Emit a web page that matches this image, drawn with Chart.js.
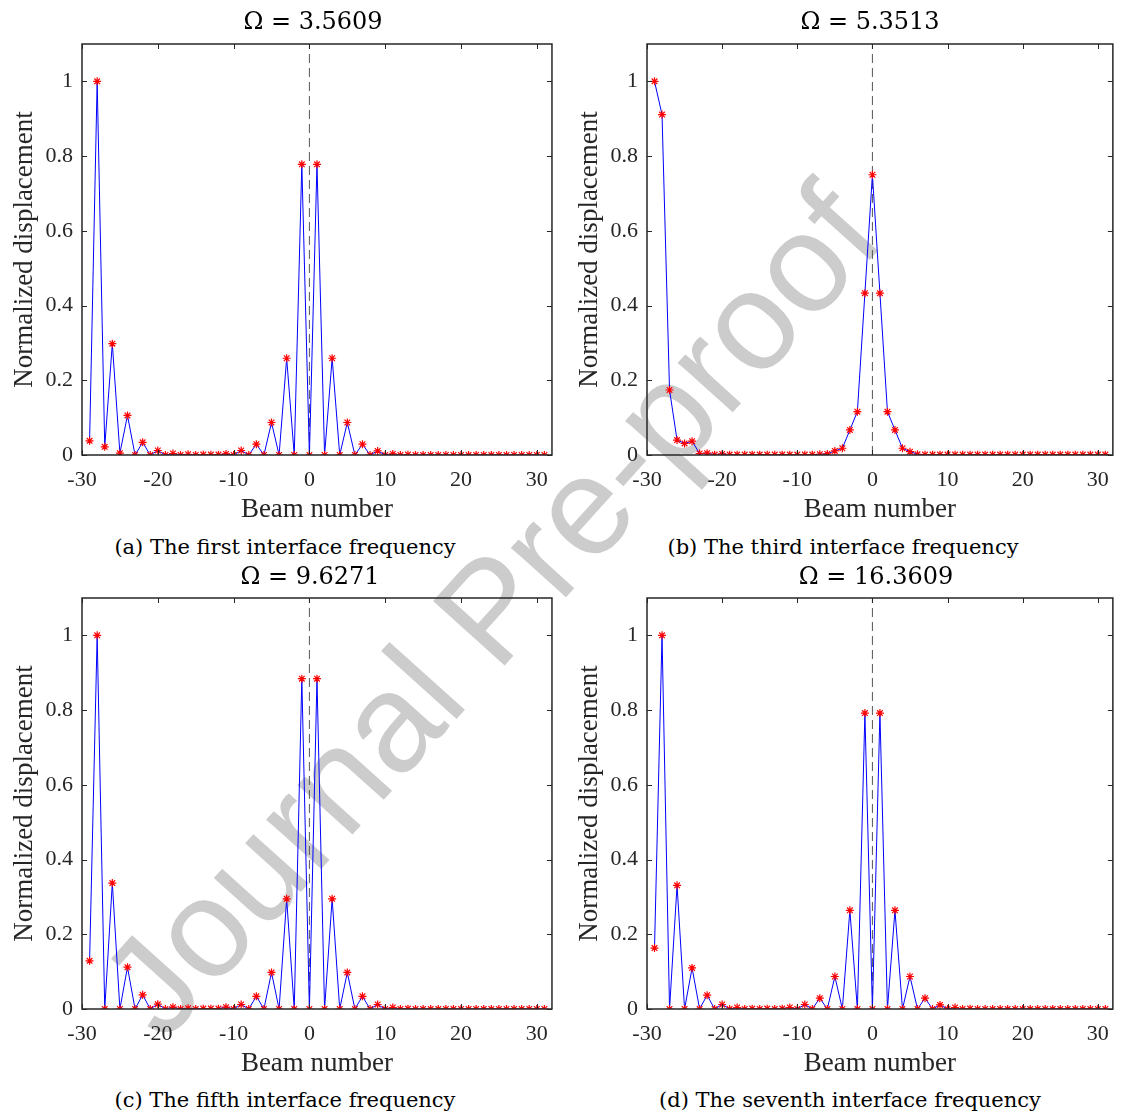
<!DOCTYPE html>
<html>
<head>
<meta charset="utf-8">
<title>Interface frequency mode shapes</title>
<script src="https://cdn.jsdelivr.net/npm/chart.js@4.4.1/dist/chart.umd.min.js"></script>
<style>
    html, body { margin: 0; padding: 0; background: #fff; }
    #page { position: relative; width: 1121px; height: 1117px; overflow: hidden; }
    #page canvas { position: absolute; }
    .ttl, .cap {
        position: absolute;
        font-family: "DejaVu Serif", serif;
        color: #000;
        white-space: nowrap;
        transform: translate(-50%, -50%);
    }
    .ttl { font-size: 24px; }
    .cap { font-size: 21px; }
    #wm {
        position: absolute;
        left: 490px; top: 610px;
        font-family: "Liberation Sans", Arial, sans-serif;
        font-size: 140px;
        color: #cccccc;
        white-space: nowrap;
        transform: translate(-50%, -50%) rotate(-48deg);
    }
</style>
</head>
<body>
<div id="page">
    <div id="wm">Journal Pre-proof</div>
</div>
<script>
/* ============================================================
   Normalized beam displacement at four interface frequencies
   ============================================================ */

// beam index on the x axis
var beamNumbers = [
    -29, -28, -27, -26, -25, -24, -23, -22, -21, -20,
    -19, -18, -17, -16, -15, -14, -13, -12, -11, -10,
    -9, -8, -7, -6, -5, -4, -3, -2, -1, 0,
    1, 2, 3, 4, 5, 6, 7, 8, 9, 10,
    11, 12, 13, 14, 15, 16, 17, 18, 19, 20,
    21, 22, 23, 24, 25, 26, 27, 28, 29, 30, 31
];

// (a) first interface frequency
var dispA = [
    0.038, 1.000, 0.022, 0.298, 0.005, 0.106, 0.000, 0.034, 0.000, 0.012,
    0.000, 0.004, 0.000, 0.002, 0.000, 0.001, 0.001, 0.001, 0.003, 0.000,
    0.012, 0.000, 0.029, 0.000, 0.087, 0.000, 0.259, 0.000, 0.778, 0.000,
    0.778, 0.000, 0.259, 0.000, 0.087, 0.000, 0.029, 0.000, 0.011, 0.000,
    0.003, 0.000, 0.001, 0.000, 0.000, 0.000, 0.000, 0.000, 0.000, 0.000,
    0.000, 0.000, 0.000, 0.000, 0.000, 0.000, 0.000, 0.000, 0.000, 0.000, 0.000
];

// (b) third interface frequency
var dispB = [
    1.000, 0.911, 0.174, 0.040, 0.031, 0.037, 0.004, 0.005, 0.001, 0.003,
    0.001, 0.001, 0.001, 0.001, 0.001, 0.001, 0.001, 0.001, 0.001, 0.001,
    0.001, 0.001, 0.002, 0.003, 0.011, 0.018, 0.067, 0.116, 0.433, 0.750,
    0.433, 0.116, 0.067, 0.018, 0.009, 0.002, 0.001, 0.001, 0.001, 0.001,
    0.001, 0.001, 0.001, 0.001, 0.001, 0.001, 0.001, 0.001, 0.001, 0.001,
    0.001, 0.001, 0.001, 0.001, 0.001, 0.001, 0.001, 0.001, 0.001, 0.001, 0.001
];

// (c) fifth interface frequency
var dispC = [
    0.129, 1.000, 0.000, 0.337, 0.000, 0.112, 0.000, 0.038, 0.000, 0.013,
    0.000, 0.005, 0.000, 0.002, 0.000, 0.001, 0.001, 0.001, 0.005, 0.000,
    0.012, 0.000, 0.034, 0.000, 0.098, 0.000, 0.295, 0.000, 0.884, 0.000,
    0.884, 0.000, 0.295, 0.000, 0.098, 0.000, 0.034, 0.000, 0.012, 0.000,
    0.004, 0.000, 0.001, 0.000, 0.000, 0.000, 0.000, 0.000, 0.000, 0.000,
    0.000, 0.000, 0.000, 0.000, 0.000, 0.000, 0.000, 0.000, 0.000, 0.000, 0.000
];

// (d) seventh interface frequency
var dispD = [
    0.163, 1.000, 0.000, 0.331, 0.000, 0.110, 0.000, 0.037, 0.000, 0.012,
    0.000, 0.004, 0.000, 0.001, 0.000, 0.001, 0.000, 0.001, 0.004, 0.000,
    0.012, 0.000, 0.029, 0.000, 0.087, 0.000, 0.264, 0.000, 0.792, 0.000,
    0.792, 0.000, 0.264, 0.000, 0.087, 0.000, 0.029, 0.000, 0.011, 0.000,
    0.004, 0.000, 0.001, 0.000, 0.000, 0.000, 0.000, 0.000, 0.000, 0.000,
    0.000, 0.000, 0.000, 0.000, 0.000, 0.000, 0.000, 0.000, 0.000, 0.000, 0.000
];

var omegaTitles = ['\u03A9 = 3.5609', '\u03A9 = 5.3513', '\u03A9 = 9.6271', '\u03A9 = 16.3609'];
var captions = [
    '(a) The first interface frequency',
    '(b) The third interface frequency',
    '(c) The fifth interface frequency',
    '(d) The seventh interface frequency'
];
var xTicks = [-30, -20, -10, 0, 10, 20, 30];
var yTicks = [0, 0.2, 0.4, 0.6, 0.8, 1];
var xRange = [-30, 32];
var yRange = [0, 1.1];
var centerLine = [0, 0];

(function () {
    'use strict';

    var page = document.getElementById('page');
    var AXIS = '#262626';

    // panel boxes: canvas placement, title and caption centres
    var panels = [
        { data: dispA, left: 0,   top: 0,   w: 560, h: 530, padR: 6, tx: 313, ty: 21,  cx: 285, cy: 547 },
        { data: dispB, left: 565, top: 0,   w: 556, h: 530, padR: 3, tx: 870, ty: 21,  cx: 843, cy: 547 },
        { data: dispC, left: 0,   top: 554, w: 560, h: 530, padR: 6, tx: 310, ty: 576, cx: 285, cy: 1100 },
        { data: dispD, left: 565, top: 554, w: 556, h: 530, padR: 3, tx: 876, ty: 576, cx: 850, cy: 1100 }
    ];

    // MATLAB-style box with inward ticks on all four sides
    var boxTicks = {
        id: 'boxTicks',
        afterDatasetsDraw: function (chart) {
            var ctx = chart.ctx;
            var a = chart.chartArea;
            var sx = chart.scales.x;
            var sy = chart.scales.y;
            var len = 5;
            ctx.save();
            ctx.strokeStyle = AXIS;
            ctx.lineWidth = 1;
            ctx.beginPath();
            sx.ticks.forEach(function (t) {
                var px = Math.round(sx.getPixelForValue(t.value)) + 0.5;
                ctx.moveTo(px, a.bottom); ctx.lineTo(px, a.bottom - len);
                ctx.moveTo(px, a.top); ctx.lineTo(px, a.top + len);
            });
            sy.ticks.forEach(function (t) {
                var py = Math.round(sy.getPixelForValue(t.value)) + 0.5;
                ctx.moveTo(a.left, py); ctx.lineTo(a.left + len, py);
                ctx.moveTo(a.right, py); ctx.lineTo(a.right - len, py);
            });
            ctx.stroke();
            ctx.lineWidth = 1.5;
            ctx.strokeRect(a.left, a.top, a.right - a.left, a.bottom - a.top);
            ctx.restore();
        }
    };

    function addText(cls, text, x, y) {
        var el = document.createElement('div');
        el.className = cls;
        el.textContent = text;
        el.style.left = x + 'px';
        el.style.top = y + 'px';
        page.appendChild(el);
    }

    function makePanel(p, i) {
        var canvas = document.createElement('canvas');
        canvas.width = p.w;
        canvas.height = p.h;
        canvas.style.left = p.left + 'px';
        canvas.style.top = p.top + 'px';
        page.appendChild(canvas);

        var points = [];
        for (var k = 0; k < beamNumbers.length; k++) {
            points.push({ x: beamNumbers[k], y: p.data[k] });
        }

        new Chart(canvas.getContext('2d'), {
            type: 'line',
            data: {
                datasets: [{
                    data: points,
                    borderColor: '#0000ff',
                    borderWidth: 1,
                    pointStyle: 'star',
                    pointRadius: 4,
                    pointBorderColor: '#ff0000',
                    pointBackgroundColor: '#ff0000',
                    pointBorderWidth: 1.2,
                    tension: 0
                }, {
                    data: [{ x: centerLine[0], y: yRange[0] }, { x: centerLine[1], y: yRange[1] }],
                    borderColor: '#555555',
                    borderWidth: 1,
                    borderDash: [9, 5],
                    pointRadius: 0
                }]
            },
            options: {
                responsive: false,
                animation: false,
                devicePixelRatio: 1,
                layout: { padding: { left: 9, top: 44, right: p.padR, bottom: 4 } },
                plugins: {
                    legend: { display: false },
                    tooltip: { enabled: false }
                },
                scales: {
                    x: {
                        type: 'linear',
                        min: xRange[0],
                        max: xRange[1],
                        afterBuildTicks: function (s) {
                            s.ticks = xTicks.map(function (v) { return { value: v }; });
                        },
                        afterFit: function (s) { s.height = 71; },
                        grid: { display: false, drawTicks: false },
                        border: { display: false },
                        ticks: {
                            padding: 12,
                            color: AXIS,
                            font: { family: '"Liberation Serif", "Times New Roman", serif', size: 22 },
                            maxRotation: 0,
                            autoSkip: false
                        },
                        title: {
                            display: true,
                            text: 'Beam number',
                            color: AXIS,
                            padding: 0,
                            font: { family: '"Liberation Serif", "Times New Roman", serif', size: 27 }
                        }
                    },
                    y: {
                        type: 'linear',
                        min: yRange[0],
                        max: yRange[1],
                        afterBuildTicks: function (s) {
                            s.ticks = yTicks.map(function (v) { return { value: v }; });
                        },
                        afterFit: function (s) { s.width = 73; },
                        grid: { display: false, drawTicks: false },
                        border: { display: false },
                        ticks: {
                            padding: 9,
                            color: AXIS,
                            font: { family: '"Liberation Serif", "Times New Roman", serif', size: 22 },
                            callback: function (v) { return String(Math.round(v * 10) / 10); }
                        },
                        title: {
                            display: true,
                            text: 'Normalized displacement',
                            color: AXIS,
                            padding: 0,
                            font: { family: '"Liberation Serif", "Times New Roman", serif', size: 27 }
                        }
                    }
                }
            },
            plugins: [boxTicks]
        });

        addText('ttl', omegaTitles[i], p.tx, p.ty);
        addText('cap', captions[i], p.cx, p.cy);
    }

    panels.forEach(makePanel);
})();
</script>
</body>
</html>
